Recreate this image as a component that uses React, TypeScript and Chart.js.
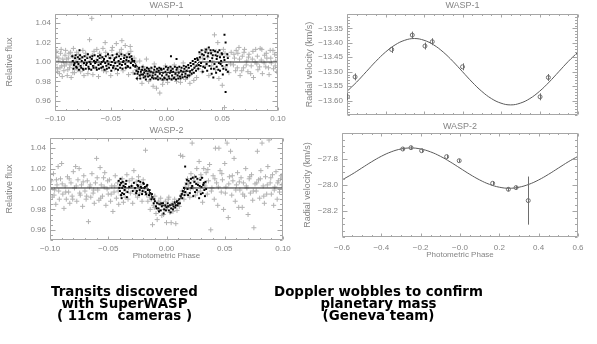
import React, { useEffect, useRef } from 'react';
import { Chart, registerables } from 'chart.js';
Chart.register(...registerables);

const FONT = "'Liberation Sans', Arial, sans-serif";
const TXT = '#858585';
const BOX = '#a6a6a6';

// ---- tick values and labels ----
const lcPhaseTicks = [-0.1, -0.05, 0, 0.05, 0.1];
const lcPhaseLabels = ['\u22120.10', '\u22120.05', '0.00', '0.05', '0.10'];
const lcFluxTicks = [0.96, 0.98, 1.0, 1.02, 1.04];
const lcFluxLabels = ['0.96', '0.98', '1.00', '1.02', '1.04'];
const rvPhaseTicks = [-0.6, -0.4, -0.2, 0, 0.2, 0.4, 0.6];
const rvPhaseLabels = ['\u22120.6', '\u22120.4', '\u22120.2', '\u22120.0', '0.2', '0.4', '0.6'];
const rv1Ticks = [-13.6, -13.55, -13.5, -13.45, -13.4, -13.35];
const rv1Labels = ['\u221213.60', '\u221213.55', '\u221213.50', '\u221213.45', '\u221213.40', '\u221213.35'];
const rv2Ticks = [-28.2, -28.0, -27.8];
const rv2Labels = ['\u221228.2', '\u221228.0', '\u221227.8'];

// ---- WASP-1 photometry (phase, relative flux) ----
const wasp1CrossPts: [number, number][] = [
  [-0.099,1.006],[-0.098,0.993],[-0.097,1.001],[-0.096,0.988],[-0.095,1.009],[-0.094,0.996],[-0.093,1.003],[-0.092,0.991],[-0.091,1.007],[-0.090,0.998],
  [-0.089,0.986],[-0.088,1.004],[-0.087,0.994],[-0.086,1.010],[-0.085,0.999],[-0.084,0.989],[-0.083,1.005],[-0.082,0.995],[-0.081,1.002],[-0.080,0.992],
  [-0.079,1.008],[-0.077,0.990],[-0.075,1.012],[-0.074,0.986],[-0.072,1.006],[-0.070,0.993],[-0.069,1.023],[-0.067,1.045],[-0.066,0.987],[-0.065,1.011],
  [-0.063,1.002],[-0.061,0.985],[-0.060,1.009],[-0.058,0.994],[-0.057,1.014],[-0.055,1.020],[-0.054,0.990],[-0.052,1.007],[-0.050,0.986],[-0.049,1.012],
  [-0.047,0.996],[-0.045,1.019],[-0.044,0.988],[-0.042,1.010],[-0.040,1.022],[-0.039,0.991],[-0.037,1.017],[-0.036,1.005],[-0.034,0.987],[-0.032,1.011],
  [-0.031,1.002],[-0.030,0.989],[-0.029,1.004],[-0.027,0.992],[-0.026,0.983],[-0.024,1.001],[-0.022,0.978],[-0.021,0.995],[-0.019,0.986],[-0.018,1.003],
  [-0.016,0.980],[-0.014,0.993],[-0.012,0.975],[-0.011,0.998],[-0.009,0.973],[-0.008,0.984],[-0.006,0.968],[-0.005,0.992],[-0.003,0.981],[-0.001,0.996],
  [0.001,0.979],[0.003,0.990],[0.005,0.983],[0.007,0.997],[0.009,0.980],[0.011,0.992],[0.013,0.985],[0.015,0.999],[0.017,0.982],[0.019,0.994],
  [0.021,0.978],[0.023,0.989],[0.025,0.997],[0.027,0.984],[0.029,1.003],[0.031,1.008],[0.032,0.990],[0.034,1.012],[0.035,0.996],[0.037,1.005],
  [0.038,0.986],[0.040,1.010],[0.041,1.001],[0.043,1.028],[0.044,0.992],[0.046,1.020],[0.047,0.983],[0.048,1.007],[0.050,0.976],[0.051,1.013],
  [0.052,0.953],[0.053,0.995],[0.055,1.006],[0.056,0.989],[0.058,1.010],[0.060,0.997],[0.061,1.004],[0.062,0.991],[0.064,1.009],[0.065,1.015],
  [0.066,0.986],[0.068,1.006],[0.069,0.994],[0.070,1.013],[0.072,1.001],[0.073,0.990],[0.074,1.008],[0.076,0.996],[0.077,1.003],[0.078,0.984],
  [0.080,1.013],[0.081,0.998],[0.082,0.992],[0.084,1.014],[0.085,1.002],[0.086,0.988],[0.088,1.007],[0.089,0.995],[0.090,1.004],[0.092,0.987],
  [0.093,1.012],[0.094,0.999],[0.096,0.993],[0.097,1.008],[0.098,1.001],[0.099,0.990],
  [-0.0995,0.997],[-0.0985,1.011],[-0.0975,0.990],[-0.0965,1.004],[-0.0955,0.994],[-0.0945,1.013],[-0.0935,0.985],[-0.0925,1.000],[-0.0915,0.996],[-0.0905,1.012],
  [-0.0895,1.003],[-0.0885,0.992],[-0.0875,1.009],[-0.0865,0.997],[-0.0855,0.984],[-0.0845,1.006],[-0.0835,1.014],[-0.0825,0.989],[-0.0815,0.999],[-0.0805,1.010],
  [-0.0785,0.996],[-0.0765,1.004],[-0.0745,0.998],[-0.0725,1.009],[-0.0705,0.988],[-0.0685,1.001],[-0.0665,1.007],[-0.0645,0.995],[-0.0625,1.013],[-0.0605,0.999],
  [-0.0585,1.005],[-0.0565,0.991],[-0.0545,1.010],[-0.0525,0.997],[-0.0505,1.004],[-0.0485,1.015],[-0.0465,0.993],[-0.0445,1.008],[-0.0425,0.999],[-0.0405,1.013],
  [-0.0385,1.006],[-0.0365,0.994],[-0.0345,1.009],[-0.0325,1.016],[-0.0275,1.000],[-0.0235,0.987],[-0.0195,0.993],[-0.0155,0.988],[-0.0115,0.984],[-0.0075,0.991],
  [-0.0035,0.977],[0.0005,0.986],[0.0045,0.993],[0.0085,0.987],[0.0125,0.979],[0.0165,0.991],[0.0205,0.986],[0.0245,0.981],[0.0285,0.993],[0.0325,1.004],
  [0.0365,1.013],[0.0405,0.996],[0.0445,1.011],[0.0485,0.999],[0.0525,1.009],[0.0575,0.998],[0.0605,1.008],[0.0625,1.012],[0.0635,0.994],[0.0655,1.003],
  [0.0675,0.991],[0.0695,1.010],[0.0715,0.997],[0.0735,1.005],[0.0755,0.988],[0.0775,1.011],[0.0795,1.000],[0.0815,1.006],[0.0835,0.995],[0.0855,1.013],
  [0.0875,0.999],[0.0895,1.009],[0.0915,0.994],[0.0935,1.004],[0.0955,1.012],[0.0975,0.996],[0.0995,1.007],
];
const wasp1DotPts: [number, number][] = [
  [-0.084,1.001],[-0.083,0.997],[-0.082,1.004],[-0.081,0.995],[-0.080,1.000],[-0.079,0.998],[-0.078,1.012],[-0.078,1.003],[-0.077,0.996],[-0.076,1.001],
  [-0.075,0.993],[-0.074,0.999],[-0.073,1.002],[-0.072,0.997],[-0.071,1.004],[-0.070,0.995],[-0.069,1.000],[-0.068,0.998],[-0.067,1.003],[-0.066,0.996],
  [-0.065,1.001],[-0.064,0.999],[-0.063,0.994],[-0.062,1.002],[-0.061,0.997],[-0.060,1.004],[-0.059,0.998],[-0.058,1.000],[-0.057,0.995],[-0.056,1.003],
  [-0.055,0.999],[-0.054,0.996],[-0.053,1.001],[-0.052,0.998],[-0.051,1.004],[-0.050,0.997],[-0.049,1.000],[-0.048,0.994],[-0.047,1.002],[-0.046,0.999],
  [-0.045,1.005],[-0.044,0.996],[-0.043,1.001],[-0.042,0.998],[-0.041,1.003],[-0.040,0.997],[-0.039,1.000],[-0.038,1.004],[-0.037,0.998],[-0.036,1.002],
  [-0.035,0.996],[-0.034,1.001],[-0.033,1.005],[-0.032,0.999],[-0.031,1.003],[-0.030,0.997],[-0.029,1.001],
  [-0.028,0.995],[-0.027,0.991],[-0.026,0.988],[-0.025,0.993],[-0.024,0.986],[-0.023,0.990],[-0.022,0.992],[-0.021,0.987],[-0.020,0.989],[-0.019,0.985],
  [-0.018,0.991],[-0.017,0.988],[-0.016,0.993],[-0.015,0.986],[-0.014,0.990],[-0.013,0.984],[-0.012,0.989],[-0.011,0.992],[-0.010,0.987],[-0.009,0.990],
  [-0.008,0.985],[-0.007,0.991],[-0.006,0.988],[-0.005,0.993],[-0.004,0.986],[-0.003,0.989],[-0.002,0.984],[-0.001,0.990],[0.000,0.987],[0.001,0.992],
  [0.002,0.985],[0.003,0.989],[0.004,0.991],[0.004,1.006],[0.005,0.986],[0.006,0.990],[0.007,0.984],[0.008,0.988],[0.009,0.992],[0.009,1.003],
  [0.010,0.986],[0.011,0.989],[0.012,0.985],[0.013,0.991],[0.014,0.987],[0.015,0.990],[0.016,0.993],[0.017,0.988],[0.018,0.991],[0.019,0.986],
  [0.020,0.994],[0.021,0.990],[0.022,0.996],[0.023,0.992],[0.024,0.998],[0.025,0.994],[0.026,1.000],[0.027,0.996],
  [0.028,1.002],[0.029,0.997],[0.030,1.005],[0.031,0.999],[0.032,1.008],[0.033,0.995],[0.034,1.003],[0.035,1.010],[0.036,0.998],[0.037,1.006],
  [0.038,1.015],[0.039,1.001],[0.040,0.993],[0.040,1.009],[0.041,1.004],[0.042,0.984],[0.042,1.012],[0.043,0.998],[0.044,1.007],[0.045,0.995],
  [0.045,1.003],[0.046,1.010],[0.047,0.999],[0.048,1.005],[0.048,0.991],[0.049,1.001],[0.050,0.996],[0.050,1.008],[0.051,0.993],[0.052,1.028],
  [0.052,1.002],[0.053,1.020],[0.053,0.969],[0.054,0.997],[0.055,0.990],[0.055,1.004],
  [-0.0845,1.006],[-0.0835,0.993],[-0.0825,0.999],[-0.0815,1.007],[-0.0805,0.994],[-0.0795,1.005],[-0.0785,0.992],[-0.0775,1.007],[-0.0765,0.994],[-0.0755,1.005],
  [-0.0745,0.992],[-0.0735,1.006],[-0.0725,0.993],[-0.0715,0.999],[-0.0705,1.008],[-0.0695,0.993],[-0.0685,1.005],[-0.0675,0.992],[-0.0665,1.006],[-0.0655,0.994],
  [-0.0645,1.007],[-0.0635,1.000],[-0.0625,0.992],[-0.0615,1.006],[-0.0605,0.993],[-0.0595,1.007],[-0.0585,0.994],[-0.0575,1.005],[-0.0565,1.001],[-0.0555,0.992],
  [-0.0545,1.006],[-0.0535,0.993],[-0.0525,1.008],[-0.0515,0.994],[-0.0505,1.004],[-0.0495,0.991],[-0.0485,1.007],[-0.0475,0.996],[-0.0465,1.004],[-0.0455,0.993],
  [-0.0445,1.008],[-0.0435,0.992],[-0.0425,1.006],[-0.0415,0.994],[-0.0405,1.008],[-0.0395,0.993],[-0.0385,1.001],[-0.0375,1.007],[-0.0365,0.994],[-0.0355,1.005],
  [-0.0345,0.995],[-0.0335,1.008],[-0.0325,0.994],[-0.0315,1.006],[-0.0305,1.001],[-0.0295,0.996],
  [-0.0285,0.988],[-0.0275,0.996],[-0.0265,0.983],[-0.0255,0.990],[-0.0245,0.994],[-0.0235,0.983],[-0.0225,0.987],[-0.0215,0.995],[-0.0205,0.984],[-0.0195,0.992],
  [-0.0185,0.982],[-0.0175,0.994],[-0.0165,0.985],[-0.0155,0.991],[-0.0145,0.982],[-0.0135,0.994],[-0.0125,0.986],[-0.0115,0.983],[-0.0105,0.995],[-0.0095,0.983],
  [-0.0085,0.993],[-0.0075,0.982],[-0.0065,0.994],[-0.0055,0.983],[-0.0045,0.992],[-0.0035,0.982],[-0.0025,0.993],[-0.0015,0.983],[-0.0005,0.995],[0.0005,0.982],
  [0.0015,0.994],[0.0025,0.983],[0.0035,0.995],[0.0045,0.982],[0.0055,0.993],[0.0065,0.983],[0.0075,0.995],[0.0085,0.982],[0.0095,0.994],[0.0105,0.983],
  [0.0115,0.995],[0.0125,0.983],[0.0135,0.994],[0.0145,0.984],[0.0155,0.996],[0.0165,0.985],[0.0175,0.995],[0.0185,0.984],[0.0195,0.997],[0.0205,0.986],
  [0.0215,0.999],[0.0225,0.988],[0.0235,1.001],[0.0245,0.989],[0.0255,1.003],[0.0265,0.991],[0.0275,1.004],
  [0.0285,0.993],[0.0295,1.010],[0.0305,0.996],[0.0315,1.012],[0.0325,0.990],[0.0335,1.007],[0.0345,0.994],[0.0355,1.013],[0.0365,0.991],[0.0375,1.009],
  [0.0385,0.996],[0.0395,1.012],[0.0405,0.988],[0.0415,1.007],[0.0425,0.993],[0.0435,1.011],[0.0445,0.989],[0.0455,1.006],[0.0465,0.992],[0.0475,1.012],
  [0.0485,0.998],[0.0495,1.009],[0.0505,0.987],[0.0515,1.005],[0.0535,0.992],[0.0545,1.008],
];
const wasp1ModelPhase = [-0.1, -0.029, -0.024, -0.018, 0, 0.018, 0.024, 0.029, 0.1];
const wasp1ModelFlux = [1.0, 1.0, 0.992, 0.99, 0.989, 0.99, 0.992, 1.0, 1.0];

// ---- WASP-2 photometry ----
const wasp2CrossPts: [number, number][] = [
  [-0.099,1.008],[-0.098,0.992],[-0.097,1.015],[-0.096,0.999],[-0.095,0.985],[-0.094,1.004],[-0.093,1.022],[-0.092,0.990],[-0.091,1.010],[-0.090,1.025],
  [-0.089,0.995],[-0.088,0.981],[-0.087,1.003],[-0.086,0.990],[-0.085,1.012],[-0.084,0.997],[-0.083,0.986],[-0.082,1.006],[-0.081,0.993],[-0.080,1.017],
  [-0.079,1.001],[-0.078,1.022],[-0.077,0.988],[-0.076,1.009],[-0.075,1.020],[-0.074,0.994],[-0.073,1.004],[-0.072,0.983],[-0.071,1.013],[-0.070,0.998],
  [-0.069,0.990],[-0.068,1.008],[-0.067,0.968],[-0.066,1.002],[-0.065,0.992],[-0.064,1.015],[-0.063,0.996],[-0.062,0.986],[-0.061,1.006],[-0.060,1.030],
  [-0.059,0.999],[-0.058,0.989],[-0.057,1.021],[-0.056,1.004],[-0.055,0.993],[-0.054,1.011],[-0.053,1.016],[-0.052,0.984],[-0.051,1.000],[-0.050,0.995],
  [-0.049,1.009],[-0.048,0.988],[-0.047,1.003],[-0.046,0.978],[-0.045,0.997],[-0.044,1.013],[-0.043,0.991],[-0.042,1.006],[-0.041,0.985],[-0.040,1.002],
  [-0.039,0.994],[-0.038,1.010],[-0.037,0.987],[-0.036,1.005],[-0.035,0.998],[-0.034,1.014],[-0.033,0.990],[-0.032,1.008],[-0.031,0.996],[-0.030,1.003],
  [-0.029,0.986],[-0.028,1.018],[-0.027,0.999],[-0.026,1.007],[-0.025,0.992],[-0.024,1.012],[-0.023,0.996],[-0.022,1.004],[-0.021,0.988],[-0.020,1.009],
  [-0.019,1.000],[-0.018,1.038],[-0.017,0.994],[-0.016,0.988],[-0.015,0.996],[-0.014,0.980],[-0.013,0.990],[-0.012,0.965],[-0.011,0.984],[-0.010,0.993],
  [-0.009,0.976],[-0.008,0.970],[-0.007,0.987],[-0.006,0.979],[-0.005,0.991],[-0.004,0.974],[-0.003,0.985],[-0.002,0.980],[-0.001,0.988],[0.000,0.967],
  [0.001,0.982],[0.002,0.992],[0.003,0.977],[0.004,0.967],[0.005,0.986],[0.006,0.981],[0.007,0.990],[0.008,0.966],[0.009,0.979],[0.010,0.988],
  [0.011,0.983],[0.012,1.033],[0.013,0.994],[0.014,1.032],[0.015,0.990],[0.016,1.002],[0.017,0.996],[0.018,1.010],[0.019,1.004],[0.020,0.992],
  [0.021,1.015],[0.022,1.045],[0.023,1.001],[0.024,1.012],[0.025,0.994],[0.026,1.020],[0.027,1.006],[0.028,1.027],[0.029,0.998],[0.030,1.011],
  [0.031,0.987],[0.032,1.020],[0.033,1.003],[0.034,1.016],[0.035,0.995],[0.036,1.008],[0.037,1.024],[0.038,0.960],[0.039,1.001],[0.040,1.013],
  [0.041,0.990],[0.042,1.040],[0.043,1.006],[0.044,0.984],[0.045,1.040],[0.046,1.018],[0.047,0.997],[0.048,1.009],[0.049,0.980],[0.050,1.025],
  [0.051,1.002],[0.052,1.045],[0.053,0.972],[0.054,1.012],[0.055,1.037],[0.056,0.994],[0.057,1.008],[0.058,1.030],[0.059,0.988],[0.060,1.004],
  [0.061,1.016],[0.062,0.982],[0.063,0.999],[0.064,1.011],[0.065,0.982],[0.066,1.006],[0.067,0.993],[0.068,1.020],[0.069,1.001],[0.070,0.975],
  [0.071,1.010],[0.072,0.996],[0.073,1.014],[0.074,0.989],[0.075,0.962],[0.076,1.005],[0.077,0.998],[0.078,1.037],[0.079,1.009],[0.080,0.991],
  [0.081,1.018],[0.082,1.045],[0.083,1.003],[0.084,0.986],[0.085,1.012],[0.086,0.995],[0.087,1.022],[0.088,1.048],[0.089,1.006],[0.090,0.995],
  [0.091,1.014],[0.092,0.984],[0.093,1.002],[0.094,1.017],[0.095,0.990],[0.096,1.008],[0.097,0.997],[0.098,1.010],[0.099,1.004],
  [-0.0995,1.000],[-0.0965,0.994],[-0.0945,1.009],[-0.0925,0.998],[-0.0895,1.005],[-0.0865,0.997],[-0.0835,1.010],[-0.0805,0.990],[-0.0775,1.003],[-0.0745,0.996],
  [-0.0715,1.007],[-0.0685,0.993],[-0.0655,1.004],[-0.0625,0.999],[-0.0595,1.011],[-0.0565,0.991],[-0.0535,1.002],[-0.0505,1.008],[-0.0475,0.995],[-0.0445,1.003],
  [-0.0415,0.998],[-0.0385,1.006],[-0.0355,0.992],[-0.0325,1.001],[-0.0295,1.010],[-0.0265,0.995],[-0.0235,1.002],[-0.0205,0.997],[-0.0145,0.992],[-0.0105,0.982],
  [-0.0065,0.988],[-0.0025,0.975],[0.0015,0.990],[0.0055,0.978],[0.0095,0.985],[0.0135,0.998],[0.0175,1.006],[0.0205,1.000],[0.0235,1.008],[0.0265,0.997],
  [0.0295,1.014],[0.0325,1.005],[0.0355,1.019],[0.0385,0.998],[0.0415,1.010],[0.0445,1.002],[0.0475,1.015],[0.0505,0.996],[0.0535,1.005],[0.0565,1.013],
  [0.0595,0.999],[0.0625,1.007],[0.0655,0.995],[0.0685,1.003],[0.0715,1.012],[0.0745,0.998],[0.0775,1.006],[0.0805,1.010],[0.0835,0.993],[0.0865,1.004],
  [0.0895,1.011],[0.0925,0.999],[0.0955,1.006],[0.0985,1.013],
];
const wasp2DotPts: [number, number][] = [
  [-0.041,1.008],[-0.040,1.004],[-0.040,0.998],[-0.039,1.006],[-0.039,0.994],[-0.038,1.001],[-0.038,0.996],[-0.037,1.003],[-0.036,0.999],[-0.035,1.005],
  [-0.034,0.992],[-0.032,1.002],[-0.030,1.003],[-0.029,0.998],[-0.028,1.006],[-0.027,1.001],[-0.026,0.996],[-0.025,1.004],[-0.024,1.008],[-0.023,0.999],
  [-0.022,1.002],[-0.021,0.995],[-0.020,1.006],[-0.019,1.001],[-0.018,0.997],[-0.017,1.003],[-0.016,0.999],[-0.015,0.994],[-0.014,0.996],[-0.013,0.990],
  [-0.012,0.992],[-0.011,0.986],[-0.010,0.988],[-0.009,0.983],[-0.008,0.986],[-0.007,0.981],[-0.006,0.985],[-0.005,0.979],[-0.004,0.983],[-0.003,0.986],
  [-0.002,0.980],[-0.001,0.984],[0.000,0.982],[0.001,0.986],[0.002,0.979],[0.003,0.984],[0.004,0.981],[0.005,0.985],[0.006,0.983],[0.007,0.987],
  [0.008,0.984],[0.009,0.988],[0.010,0.986],[0.011,0.990],[0.012,0.993],[0.013,0.995],[0.014,0.998],[0.015,1.001],[0.016,1.022],[0.016,0.997],
  [0.017,1.005],[0.018,1.000],[0.019,1.008],[0.020,0.996],[0.021,1.010],[0.022,1.003],[0.023,0.993],[0.024,1.007],[0.025,1.012],[0.026,0.999],
  [0.027,1.004],[0.028,0.991],[0.029,1.009],[0.030,1.002],[0.031,0.996],[0.032,1.006],[0.033,0.993],[0.034,1.000],
  [-0.0405,1.001],[-0.0395,1.010],[-0.0385,0.991],[-0.0375,1.007],[-0.0365,0.995],[-0.0355,1.002],[-0.0345,1.008],[-0.0335,0.997],[-0.0255,0.998],[-0.0245,1.003],
  [-0.0235,0.994],[-0.0225,1.007],[-0.0215,1.001],[-0.0205,0.998],[-0.0195,1.005],[-0.0185,1.002],[-0.0175,0.995],[-0.0165,1.004],[-0.0145,0.999],[-0.0125,0.995],
  [-0.0105,0.990],[-0.0085,0.981],[-0.0065,0.978],[-0.0045,0.986],[-0.0025,0.976],[-0.0005,0.979],[0.0015,0.983],[0.0035,0.977],[0.0055,0.980],[0.0075,0.982],
  [0.0095,0.984],[0.0115,0.986],[0.0135,0.991],[0.0155,0.994],[0.0175,1.009],[0.0185,0.994],[0.0205,1.006],[0.0215,1.001],[0.0225,1.011],[0.0245,0.997],
  [0.0255,1.005],[0.0265,1.010],[0.0285,1.003],[0.0295,0.995],[0.0305,1.011],[0.0315,1.004],[0.0325,0.999],[0.0335,1.007],
];
const wasp2ModelPhase = [-0.1, -0.016, -0.012, -0.008, -0.004, 0, 0.004, 0.008, 0.012, 0.016, 0.1];
const wasp2ModelFlux = [1.001, 1.001, 0.991, 0.986, 0.984, 0.983, 0.984, 0.986, 0.991, 1.001, 1.001];

// ---- radial velocities ----
const rvCurvePhase = [-0.6,-0.55,-0.5,-0.45,-0.4,-0.35,-0.3,-0.25,-0.2,-0.15,-0.1,-0.05,0,0.05,0.1,0.15,0.2,0.25,0.3,0.35,0.4,0.45,0.5,0.55,0.6];
const wasp1RvCurve = [-13.568,-13.536,-13.5,-13.464,-13.432,-13.407,-13.391,-13.385,-13.391,-13.407,-13.432,-13.464,-13.5,-13.536,-13.568,-13.593,-13.609,-13.615,-13.609,-13.593,-13.568,-13.536,-13.5,-13.464,-13.432];
const wasp2RvCurve = [-27.961,-27.918,-27.87,-27.822,-27.779,-27.745,-27.723,-27.715,-27.723,-27.745,-27.779,-27.822,-27.87,-27.918,-27.961,-27.995,-28.017,-28.025,-28.017,-27.995,-27.961,-27.918,-27.87,-27.822,-27.779];
const wasp1RvPhase = [-0.598, -0.558, -0.368, -0.261, -0.195, -0.157, 0.0, 0.403, 0.446];
const wasp1RvVel = [-13.587, -13.518, -13.423, -13.373, -13.411, -13.396, -13.483, -13.587, -13.52];
const wasp1RvErr = [0.012, 0.012, 0.012, 0.012, 0.012, 0.012, 0.012, 0.012, 0.012];
const wasp2RvPhase = [-0.291, -0.249, -0.195, -0.068, -0.004, 0.166, 0.246, 0.285, 0.347];
const wasp2RvVel = [-27.723, -27.713, -27.736, -27.782, -27.813, -27.987, -28.033, -28.02, -28.12];
const wasp2RvErr = [0.015, 0.012, 0.015, 0.015, 0.012, 0.015, 0.015, 0.012, 0.185];

const leftCaption = ['Transits discovered', 'with SuperWASP', '( 11cm  cameras )'];
const rightCaption = ['Doppler wobbles to confirm', 'planetary mass', '(Geneva team)'];

const pts = (xs: number[], ys: number[]) => xs.map((x, i) => ({ x, y: ys[i] }));
const pairs = (p: [number, number][]) => p.map(([x, y]) => ({ x, y }));

type AxisSpec = {
  min: number; max: number; ticks: number[]; labels: string[]; minor: number;
  majorLen: number; minorLen: number; showLabels?: boolean; labelPad?: number;
  title?: string; titlePad?: number; titleSize?: number; size: number;
};
type Spec = {
  left: number; top: number; width: number; height: number;
  padTop: number; padRight: number; title: string; titleOffset: number;
  x: AxisSpec; y: AxisSpec; datasets: any[];
  errors?: { index: number; err: number[] };
};

function boxPlugin(sx: AxisSpec, sy: AxisSpec) {
  return {
    id: 'boxTicks',
    afterDatasetsDraw(chart: any) {
      const { ctx, chartArea: a } = chart;
      const xs = chart.scales.x, ys = chart.scales.y;
      const L = Math.round(a.left) + 0.5, R = Math.round(a.right) - 0.5;
      const T = Math.round(a.top) + 0.5, B = Math.round(a.bottom) - 0.5;
      ctx.save();
      ctx.strokeStyle = BOX;
      ctx.lineWidth = 1;
      ctx.beginPath();
      ctx.rect(L, T, R - L, B - T);
      const k0x = Math.ceil(sx.min / sx.minor - 1e-6), k1x = Math.floor(sx.max / sx.minor + 1e-6);
      for (let k = k0x; k <= k1x; k++) {
        const v = k * sx.minor;
        const major = sx.ticks.some((m) => Math.abs(m - v) < sx.minor / 10);
        const len = major ? sx.majorLen : sx.minorLen;
        const px = Math.round(xs.getPixelForValue(v)) + 0.5;
        ctx.moveTo(px, B); ctx.lineTo(px, B - len);
        ctx.moveTo(px, T); ctx.lineTo(px, T + len);
      }
      const k0y = Math.ceil(sy.min / sy.minor - 1e-6), k1y = Math.floor(sy.max / sy.minor + 1e-6);
      for (let k = k0y; k <= k1y; k++) {
        const v = k * sy.minor;
        const major = sy.ticks.some((m) => Math.abs(m - v) < sy.minor / 10);
        const len = major ? sy.majorLen : sy.minorLen;
        const py = Math.round(ys.getPixelForValue(v)) + 0.5;
        ctx.moveTo(L, py); ctx.lineTo(L + len, py);
        ctx.moveTo(R, py); ctx.lineTo(R - len, py);
      }
      ctx.stroke();
      ctx.restore();
    },
  };
}

function titlePlugin(text: string, offset: number) {
  return {
    id: 'panelTitle',
    afterDraw(chart: any) {
      const { ctx, chartArea: a } = chart;
      ctx.save();
      ctx.font = `9px ${FONT}`;
      ctx.fillStyle = TXT;
      ctx.textAlign = 'center';
      ctx.textBaseline = 'middle';
      ctx.fillText(text, (a.left + a.right) / 2, a.top - offset);
      ctx.restore();
    },
  };
}

function errorPlugin(index: number, err: number[]) {
  return {
    id: 'errorBars',
    afterDatasetsDraw(chart: any) {
      const { ctx } = chart;
      const ys = chart.scales.y;
      const meta = chart.getDatasetMeta(index);
      const data = chart.data.datasets[index].data;
      ctx.save();
      ctx.strokeStyle = '#6e6e6e';
      ctx.lineWidth = 1;
      ctx.beginPath();
      meta.data.forEach((el: any, i: number) => {
        const d = data[i];
        const x = Math.round(el.x) + 0.5;
        ctx.moveTo(x, ys.getPixelForValue(d.y + err[i]));
        ctx.lineTo(x, ys.getPixelForValue(d.y - err[i]));
      });
      ctx.stroke();
      ctx.restore();
    },
  };
}

function axis(s: AxisSpec, horizontal: boolean) {
  return {
    type: 'linear',
    position: horizontal ? 'bottom' : 'left',
    min: s.min,
    max: s.max,
    grid: { display: false, drawTicks: false },
    border: { display: false },
    ticks: {
      display: s.showLabels !== false,
      autoSkip: false,
      maxRotation: 0,
      color: TXT,
      font: { family: FONT, size: 8 },
      padding: s.labelPad ?? 4,
      callback: (_v: any, i: number) => s.labels[i],
    },
    afterBuildTicks: (sc: any) => { sc.ticks = s.ticks.map((v) => ({ value: v })); },
    afterFit: (sc: any) => { if (horizontal) sc.height = s.size; else sc.width = s.size; },
    title: s.title
      ? { display: true, text: s.title, color: TXT, font: { family: FONT, size: s.titleSize ?? 9 },
          padding: horizontal ? { top: 0, bottom: s.titlePad ?? 0 } : { top: s.titlePad ?? 0, bottom: 0 } }
      : { display: false },
  };
}

function Panel({ spec }: { spec: Spec }) {
  const ref = useRef<HTMLCanvasElement>(null);
  useEffect(() => {
    const plugins: any[] = [boxPlugin(spec.x, spec.y), titlePlugin(spec.title, spec.titleOffset)];
    if (spec.errors) plugins.push(errorPlugin(spec.errors.index, spec.errors.err));
    const chart = new Chart(ref.current as HTMLCanvasElement, {
      type: 'scatter',
      data: { datasets: spec.datasets },
      options: {
        animation: false,
        responsive: false,
        devicePixelRatio: 1,
        events: [],
        layout: { padding: { top: spec.padTop, right: spec.padRight, left: 0, bottom: 0 } },
        plugins: { legend: { display: false }, tooltip: { enabled: false } },
        scales: { x: axis(spec.x, true) as any, y: axis(spec.y, false) as any },
      },
      plugins,
    } as any);
    return () => chart.destroy();
  }, []);
  return (
    <canvas
      ref={ref}
      width={spec.width}
      height={spec.height}
      style={{ position: 'absolute', left: spec.left, top: spec.top, width: spec.width, height: spec.height }}
    />
  );
}

const modelLine = (data: any[]) => ({ data, showLine: true, borderColor: '#1e1e1e', borderWidth: 1, pointRadius: 0, tension: 0 });
const dots = (data: any[]) => ({ data, pointStyle: 'rect', pointRadius: 1.4, backgroundColor: '#000', borderWidth: 0 });
const crosses = (data: any[]) => ({ data, pointStyle: 'cross', pointRadius: 2.5, borderColor: '#b2b2b2', borderWidth: 1 });
const rvLine = (data: any[]) => ({ data, showLine: true, borderColor: '#5a5a5a', borderWidth: 1, pointRadius: 0, tension: 0.4 });
const rvPts = (data: any[]) => ({ data, pointStyle: 'circle', pointRadius: 2, borderColor: '#6e6e6e', backgroundColor: 'rgba(255,255,255,0)', borderWidth: 1 });

const lcX = (extra: Partial<AxisSpec>): AxisSpec => ({
  min: -0.1, max: 0.1, ticks: lcPhaseTicks, labels: lcPhaseLabels, minor: 0.01, majorLen: 3, minorLen: 1.5, size: 18, ...extra,
});
const lcY = (extra: Partial<AxisSpec>): AxisSpec => ({
  min: 0.95, max: 1.05, ticks: lcFluxTicks, labels: lcFluxLabels, minor: 0.005, majorLen: 5, minorLen: 2.5,
  title: 'Relative flux', titlePad: 4.5, size: 55, ...extra,
});
const rvX = (extra: Partial<AxisSpec>): AxisSpec => ({
  min: -0.6, max: 0.6, ticks: rvPhaseTicks, labels: rvPhaseLabels, minor: 0.05, majorLen: 3, minorLen: 1.5, size: 13, ...extra,
});

const specs: Spec[] = [
  {
    left: 0, top: 0, width: 300, height: 128, padTop: 13.5, padRight: 22, title: 'WASP-1', titleOffset: 7.5,
    x: lcX({ size: 17.5, labelPad: 3 }),
    y: lcY({ size: 55 }),
    datasets: [modelLine(pts(wasp1ModelPhase, wasp1ModelFlux)), dots(pairs(wasp1DotPts)), crosses(pairs(wasp1CrossPts))],
  },
  {
    left: 0, top: 118, width: 300, height: 147, padTop: 20, padRight: 17, title: 'WASP-2', titleOffset: 7.3,
    x: lcX({ size: 25, labelPad: 3.6, title: 'Photometric Phase', titlePad: 4.2, titleSize: 8 }),
    y: lcY({ size: 50 }),
    datasets: [modelLine(pts(wasp2ModelPhase, wasp2ModelFlux)), dots(pairs(wasp2DotPts)), crosses(pairs(wasp2CrossPts))],
  },
  {
    left: 300, top: 0, width: 297, height: 128, padTop: 14, padRight: 19, title: 'WASP-1', titleOffset: 8.5,
    x: rvX({ showLabels: false, size: 13 }),
    y: { min: -13.65, max: -13.3, ticks: rv1Ticks, labels: rv1Labels, minor: 0.01, majorLen: 5, minorLen: 2.5,
         title: 'Radial velocity (km/s)', titlePad: 3.7, size: 47 },
    datasets: [rvPts(pts(wasp1RvPhase, wasp1RvVel)), rvLine(pts(rvCurvePhase, wasp1RvCurve))],
    errors: { index: 0, err: wasp1RvErr },
  },
  {
    left: 300, top: 118, width: 297, height: 147, padTop: 15, padRight: 19, title: 'WASP-2', titleOffset: 6.5,
    x: rvX({ size: 28, labelPad: 5.6, title: 'Photometric Phase', titlePad: 5.2, titleSize: 8 }),
    y: { min: -28.4, max: -27.6, ticks: rv2Ticks, labels: rv2Labels, minor: 0.05, majorLen: 5, minorLen: 2.5,
         title: 'Radial velocity (km/s)', titlePad: 2, size: 42 },
    datasets: [rvPts(pts(wasp2RvPhase, wasp2RvVel)), rvLine(pts(rvCurvePhase, wasp2RvCurve))],
    errors: { index: 0, err: wasp2RvErr },
  },
];

const captionStyle: React.CSSProperties = {
  position: 'absolute',
  top: 286.2,
  fontFamily: "'DejaVu Sans', sans-serif",
  fontWeight: 'bold',
  fontSize: 13.4,
  lineHeight: '11.7px',
  color: '#000',
  textAlign: 'center',
  whiteSpace: 'pre',
};

export default function App() {
  return (
    <div style={{ position: 'absolute', left: 0, top: 0, width: 597, height: 344, background: '#fff', overflow: 'hidden' }}>
      {specs.map((s, i) => <Panel key={i} spec={s} />)}
      <div style={{ ...captionStyle, left: 14.5, width: 220 }}>
        {leftCaption.map((t, i) => <div key={i}>{t}</div>)}
      </div>
      <div style={{ ...captionStyle, left: 258.5, width: 240 }}>
        {rightCaption.map((t, i) => <div key={i}>{t}</div>)}
      </div>
    </div>
  );
}
